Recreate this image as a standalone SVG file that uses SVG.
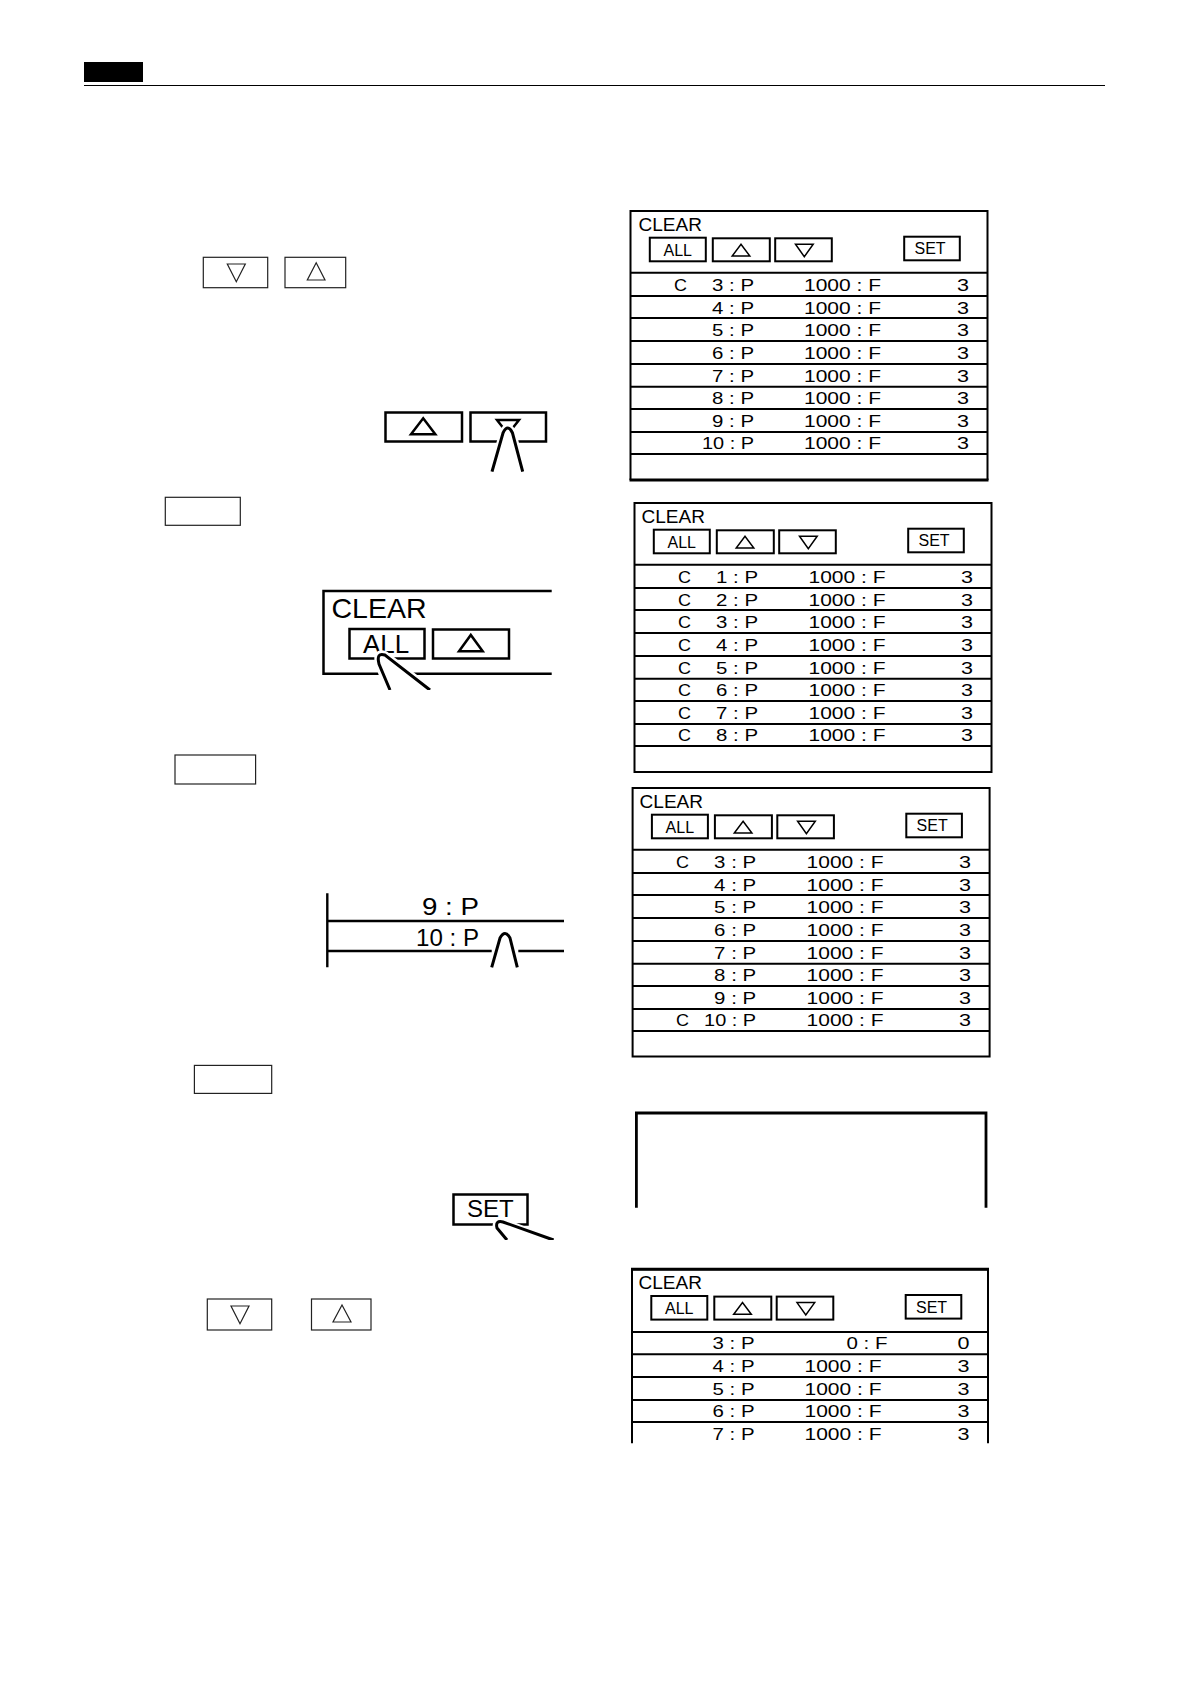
<svg xmlns="http://www.w3.org/2000/svg" width="1190" height="1684" viewBox="0 0 1190 1684">
<style>
text{font-family:"Liberation Sans",Arial,sans-serif;fill:#000}
.f{fill:none;stroke:#000;stroke-width:2}
.b{fill:#fff;stroke:#000;stroke-width:2}
.t{fill:#fff;stroke:#000;stroke-width:1.5;stroke-linejoin:miter}
.thin{fill:#fff;stroke:#222;stroke-width:1.2}
.h{font-size:19px}.k{font-size:16px}
.r{font-size:16.5px;text-anchor:end;transform:translate(.5px,-.5px)}
.l{stroke:#000;stroke-width:2;fill:none}
.w{fill:#fff;stroke:#000;stroke-width:2.5}
.halo{fill:#fff;stroke:#fff;stroke-width:8}
.fg{fill:none;stroke:#000;stroke-width:3}
</style>
<defs>
<g id="chrome">
<rect class="b" x="19.3" y="26.7" width="56" height="23.6"/>
<rect class="b" x="82.3" y="27.3" width="57" height="23"/>
<rect class="b" x="144.7" y="27.3" width="56.6" height="23"/>
<rect class="b" x="273.7" y="25.7" width="55.6" height="23.6"/>
<path class="t" d="M101.7 45H119.3L110.5 33.3Z"/>
<path class="t" d="M165 33.3H182.7L173.8 45.7Z"/>
</g>
<g id="lines8">
<path class="l" d="M0 61.7H357M0 85H357M0 107H357M0 130H357M0 153H357M0 175.7H357M0 198H357M0 221H357M0 243H357"/>
</g>
</defs>
<g id="header"><rect x="84" y="62" width="59" height="20" fill="#000"/><path d="M84 85.5H1105" stroke="#000" stroke-width="1"/></g>

<g id="key-down-up-1">
<rect class="thin" x="203.3" y="257.3" width="64.4" height="30.4"/><path class="thin" d="M227.3 264H245.3L236.3 281.7Z"/>
<rect class="thin" x="285" y="257.3" width="60.7" height="30.4"/><path class="thin" d="M307.3 280H325L316.2 262.7Z"/>
</g>
<g id="press-down">
<rect class="w" x="385.5" y="412.5" width="76.5" height="29"/><path class="w" d="M411 434.3H435.3L423.2 418.3Z"/>
<rect class="w" x="470.5" y="412.5" width="75.5" height="29"/><path class="w" d="M497 420H519L508 434Z"/>
<path class="halo" d="M492 476L503 433Q507.7 423 512.5 433L522.7 476Z"/>
<path class="fg" d="M492 471.7L503 433Q507.7 423 512.5 433L522.7 471.7"/>
<rect x="480" y="472" width="55" height="10" fill="#fff"/>
</g>
<g id="key-blank-1"><rect class="thin" x="165.3" y="497.3" width="75" height="28"/></g>
<g id="press-all">
<path d="M551.7 591H323.5V673.7H551.7" fill="none" stroke="#000" stroke-width="2.5"/>
<text x="331.5" y="618" font-size="28.5px">CLEAR</text>
<rect class="w" x="349.5" y="629" width="75" height="29.5"/>
<text x="363" y="652.7" font-size="26px">ALL</text>
<rect class="w" x="433" y="629.5" width="76" height="29"/><path class="w" d="M459 651.3H482.7L470.8 635Z"/>
<path class="halo" d="M390 694L379 664Q376 652 385 655L435 694Z"/>
<path class="fg" d="M390 690L379 664Q376 652 385 655L430 690"/>
<rect x="375" y="690" width="70" height="10" fill="#fff"/>
</g>
<g id="key-blank-2"><rect class="thin" x="175" y="755" width="80.6" height="29"/></g>
<g id="press-row">
<path d="M327.3 893.3V967.3M327.3 921H564M327.3 951H491.7M518.3 951H564" fill="none" stroke="#000" stroke-width="2.4"/>
<text x="479" y="915" font-size="23px" text-anchor="end" textLength="57" lengthAdjust="spacingAndGlyphs">9 : P</text>
<text x="479" y="946" font-size="23px" text-anchor="end" textLength="63" lengthAdjust="spacingAndGlyphs">10 : P</text>
<path class="fg" d="M491.7 967.3L500 938Q505 929 510 938L517.3 967.3"/>
</g>
<g id="key-blank-3"><rect class="thin" x="194.4" y="1065.4" width="77.3" height="28"/></g>
<g id="press-set">
<rect class="w" x="453.5" y="1194.5" width="74" height="30"/>
<text x="467" y="1217.3" font-size="24px">SET</text>
<path class="halo" d="M507 1242L497 1228Q495 1220 503 1222L553.6 1242Z"/>
<path class="fg" d="M507 1240L497 1228Q495 1220 503 1222L553.6 1240"/>
<rect x="490" y="1240" width="75" height="10" fill="#fff"/>
</g>
<g id="key-down-up-2">
<rect class="thin" x="207.3" y="1299" width="64.4" height="31"/><path class="thin" d="M231 1306H249L240 1323.7Z"/>
<rect class="thin" x="311.5" y="1299" width="59.5" height="31"/><path class="thin" d="M333 1322H351L342 1305Z"/>
</g>

<g id="panel-1" transform="translate(630.5 211)">
<path d="M0 269V0H357V269" class="f"/><path d="M-1 269H358" stroke="#000" stroke-width="3"/>
<use href="#chrome"/><use href="#lines8"/>
<text class="h" x="8" y="19.5">CLEAR</text><text class="k" x="33" y="45.2">ALL</text><text class="k" x="284" y="43.3">SET</text>
<text class="r" x="56" y="80.7" textLength="13" lengthAdjust="spacingAndGlyphs">C</text>
<text class="r" x="123" y="80.7" textLength="42" lengthAdjust="spacingAndGlyphs">3 : P</text><text class="r" x="250" y="80.7" textLength="77" lengthAdjust="spacingAndGlyphs">1000 : F</text><text class="r" x="338" y="80.7" textLength="12" lengthAdjust="spacingAndGlyphs">3</text>
<text class="r" x="123" y="103.3" textLength="42" lengthAdjust="spacingAndGlyphs">4 : P</text><text class="r" x="250" y="103.3" textLength="77" lengthAdjust="spacingAndGlyphs">1000 : F</text><text class="r" x="338" y="103.3" textLength="12" lengthAdjust="spacingAndGlyphs">3</text>
<text class="r" x="123" y="125.9" textLength="42" lengthAdjust="spacingAndGlyphs">5 : P</text><text class="r" x="250" y="125.9" textLength="77" lengthAdjust="spacingAndGlyphs">1000 : F</text><text class="r" x="338" y="125.9" textLength="12" lengthAdjust="spacingAndGlyphs">3</text>
<text class="r" x="123" y="148.5" textLength="42" lengthAdjust="spacingAndGlyphs">6 : P</text><text class="r" x="250" y="148.5" textLength="77" lengthAdjust="spacingAndGlyphs">1000 : F</text><text class="r" x="338" y="148.5" textLength="12" lengthAdjust="spacingAndGlyphs">3</text>
<text class="r" x="123" y="171.1" textLength="42" lengthAdjust="spacingAndGlyphs">7 : P</text><text class="r" x="250" y="171.1" textLength="77" lengthAdjust="spacingAndGlyphs">1000 : F</text><text class="r" x="338" y="171.1" textLength="12" lengthAdjust="spacingAndGlyphs">3</text>
<text class="r" x="123" y="193.7" textLength="42" lengthAdjust="spacingAndGlyphs">8 : P</text><text class="r" x="250" y="193.7" textLength="77" lengthAdjust="spacingAndGlyphs">1000 : F</text><text class="r" x="338" y="193.7" textLength="12" lengthAdjust="spacingAndGlyphs">3</text>
<text class="r" x="123" y="216.3" textLength="42" lengthAdjust="spacingAndGlyphs">9 : P</text><text class="r" x="250" y="216.3" textLength="77" lengthAdjust="spacingAndGlyphs">1000 : F</text><text class="r" x="338" y="216.3" textLength="12" lengthAdjust="spacingAndGlyphs">3</text>
<text class="r" x="123" y="238.9" textLength="52" lengthAdjust="spacingAndGlyphs">10 : P</text><text class="r" x="250" y="238.9" textLength="77" lengthAdjust="spacingAndGlyphs">1000 : F</text><text class="r" x="338" y="238.9" textLength="12" lengthAdjust="spacingAndGlyphs">3</text>
</g>

<g id="panel-2" transform="translate(634.5 503)">
<rect class="f" x="0" y="0" width="357" height="269"/>
<use href="#chrome"/><use href="#lines8"/>
<text class="h" x="7" y="19.5">CLEAR</text><text class="k" x="33" y="45.2">ALL</text><text class="k" x="284" y="43.3">SET</text>
<text class="r" x="56" y="80.7" textLength="13" lengthAdjust="spacingAndGlyphs">C</text><text class="r" x="123" y="80.7" textLength="42" lengthAdjust="spacingAndGlyphs">1 : P</text><text class="r" x="250.5" y="80.7" textLength="77" lengthAdjust="spacingAndGlyphs">1000 : F</text><text class="r" x="338" y="80.7" textLength="12" lengthAdjust="spacingAndGlyphs">3</text>
<text class="r" x="56" y="103.3" textLength="13" lengthAdjust="spacingAndGlyphs">C</text><text class="r" x="123" y="103.3" textLength="42" lengthAdjust="spacingAndGlyphs">2 : P</text><text class="r" x="250.5" y="103.3" textLength="77" lengthAdjust="spacingAndGlyphs">1000 : F</text><text class="r" x="338" y="103.3" textLength="12" lengthAdjust="spacingAndGlyphs">3</text>
<text class="r" x="56" y="125.9" textLength="13" lengthAdjust="spacingAndGlyphs">C</text><text class="r" x="123" y="125.9" textLength="42" lengthAdjust="spacingAndGlyphs">3 : P</text><text class="r" x="250.5" y="125.9" textLength="77" lengthAdjust="spacingAndGlyphs">1000 : F</text><text class="r" x="338" y="125.9" textLength="12" lengthAdjust="spacingAndGlyphs">3</text>
<text class="r" x="56" y="148.5" textLength="13" lengthAdjust="spacingAndGlyphs">C</text><text class="r" x="123" y="148.5" textLength="42" lengthAdjust="spacingAndGlyphs">4 : P</text><text class="r" x="250.5" y="148.5" textLength="77" lengthAdjust="spacingAndGlyphs">1000 : F</text><text class="r" x="338" y="148.5" textLength="12" lengthAdjust="spacingAndGlyphs">3</text>
<text class="r" x="56" y="171.1" textLength="13" lengthAdjust="spacingAndGlyphs">C</text><text class="r" x="123" y="171.1" textLength="42" lengthAdjust="spacingAndGlyphs">5 : P</text><text class="r" x="250.5" y="171.1" textLength="77" lengthAdjust="spacingAndGlyphs">1000 : F</text><text class="r" x="338" y="171.1" textLength="12" lengthAdjust="spacingAndGlyphs">3</text>
<text class="r" x="56" y="193.7" textLength="13" lengthAdjust="spacingAndGlyphs">C</text><text class="r" x="123" y="193.7" textLength="42" lengthAdjust="spacingAndGlyphs">6 : P</text><text class="r" x="250.5" y="193.7" textLength="77" lengthAdjust="spacingAndGlyphs">1000 : F</text><text class="r" x="338" y="193.7" textLength="12" lengthAdjust="spacingAndGlyphs">3</text>
<text class="r" x="56" y="216.3" textLength="13" lengthAdjust="spacingAndGlyphs">C</text><text class="r" x="123" y="216.3" textLength="42" lengthAdjust="spacingAndGlyphs">7 : P</text><text class="r" x="250.5" y="216.3" textLength="77" lengthAdjust="spacingAndGlyphs">1000 : F</text><text class="r" x="338" y="216.3" textLength="12" lengthAdjust="spacingAndGlyphs">3</text>
<text class="r" x="56" y="238.9" textLength="13" lengthAdjust="spacingAndGlyphs">C</text><text class="r" x="123" y="238.9" textLength="42" lengthAdjust="spacingAndGlyphs">8 : P</text><text class="r" x="250.5" y="238.9" textLength="77" lengthAdjust="spacingAndGlyphs">1000 : F</text><text class="r" x="338" y="238.9" textLength="12" lengthAdjust="spacingAndGlyphs">3</text>
</g>

<g id="panel-3" transform="translate(632.6 788)">
<rect class="f" x="0" y="0" width="357" height="268.5"/>
<use href="#chrome"/><use href="#lines8"/>
<text class="h" x="7" y="19.5">CLEAR</text><text class="k" x="33" y="45.2">ALL</text><text class="k" x="284" y="43.3">SET</text>
<text class="r" x="56" y="80.7" textLength="13" lengthAdjust="spacingAndGlyphs">C</text><text class="r" x="123" y="80.7" textLength="42" lengthAdjust="spacingAndGlyphs">3 : P</text><text class="r" x="250.5" y="80.7" textLength="77" lengthAdjust="spacingAndGlyphs">1000 : F</text><text class="r" x="338" y="80.7" textLength="12" lengthAdjust="spacingAndGlyphs">3</text>
<text class="r" x="123" y="103.3" textLength="42" lengthAdjust="spacingAndGlyphs">4 : P</text><text class="r" x="250.5" y="103.3" textLength="77" lengthAdjust="spacingAndGlyphs">1000 : F</text><text class="r" x="338" y="103.3" textLength="12" lengthAdjust="spacingAndGlyphs">3</text>
<text class="r" x="123" y="125.9" textLength="42" lengthAdjust="spacingAndGlyphs">5 : P</text><text class="r" x="250.5" y="125.9" textLength="77" lengthAdjust="spacingAndGlyphs">1000 : F</text><text class="r" x="338" y="125.9" textLength="12" lengthAdjust="spacingAndGlyphs">3</text>
<text class="r" x="123" y="148.5" textLength="42" lengthAdjust="spacingAndGlyphs">6 : P</text><text class="r" x="250.5" y="148.5" textLength="77" lengthAdjust="spacingAndGlyphs">1000 : F</text><text class="r" x="338" y="148.5" textLength="12" lengthAdjust="spacingAndGlyphs">3</text>
<text class="r" x="123" y="171.1" textLength="42" lengthAdjust="spacingAndGlyphs">7 : P</text><text class="r" x="250.5" y="171.1" textLength="77" lengthAdjust="spacingAndGlyphs">1000 : F</text><text class="r" x="338" y="171.1" textLength="12" lengthAdjust="spacingAndGlyphs">3</text>
<text class="r" x="123" y="193.7" textLength="42" lengthAdjust="spacingAndGlyphs">8 : P</text><text class="r" x="250.5" y="193.7" textLength="77" lengthAdjust="spacingAndGlyphs">1000 : F</text><text class="r" x="338" y="193.7" textLength="12" lengthAdjust="spacingAndGlyphs">3</text>
<text class="r" x="123" y="216.3" textLength="42" lengthAdjust="spacingAndGlyphs">9 : P</text><text class="r" x="250.5" y="216.3" textLength="77" lengthAdjust="spacingAndGlyphs">1000 : F</text><text class="r" x="338" y="216.3" textLength="12" lengthAdjust="spacingAndGlyphs">3</text>
<text class="r" x="56" y="238.9" textLength="13" lengthAdjust="spacingAndGlyphs">C</text><text class="r" x="123" y="238.9" textLength="52" lengthAdjust="spacingAndGlyphs">10 : P</text><text class="r" x="250.5" y="238.9" textLength="77" lengthAdjust="spacingAndGlyphs">1000 : F</text><text class="r" x="338" y="238.9" textLength="12" lengthAdjust="spacingAndGlyphs">3</text>
</g>

<g id="panel-4"><path d="M636.4 1207.7V1113H986V1207.7" fill="none" stroke="#000" stroke-width="2.8"/></g>

<g id="panel-5" transform="translate(632 1269.3)">
<path d="M0 174V0H356V174" class="f"/><path d="M-1 0H357" stroke="#000" stroke-width="3"/>
<use href="#chrome"/>
<path class="l" d="M0 62.7H356M0 85H356M0 107.7H356M0 130.7H356M0 152.7H356"/>
<text class="h" x="6.5" y="19.5">CLEAR</text><text class="k" x="33" y="45.2">ALL</text><text class="k" x="284" y="43.3">SET</text>
<text class="r" x="122" y="80.7" textLength="42" lengthAdjust="spacingAndGlyphs">3 : P</text><text class="r" x="255" y="80.7" textLength="41" lengthAdjust="spacingAndGlyphs">0 : F</text><text class="r" x="337" y="80.7" textLength="12" lengthAdjust="spacingAndGlyphs">0</text>
<text class="r" x="122" y="103.3" textLength="42" lengthAdjust="spacingAndGlyphs">4 : P</text><text class="r" x="249" y="103.3" textLength="77" lengthAdjust="spacingAndGlyphs">1000 : F</text><text class="r" x="337" y="103.3" textLength="12" lengthAdjust="spacingAndGlyphs">3</text>
<text class="r" x="122" y="125.9" textLength="42" lengthAdjust="spacingAndGlyphs">5 : P</text><text class="r" x="249" y="125.9" textLength="77" lengthAdjust="spacingAndGlyphs">1000 : F</text><text class="r" x="337" y="125.9" textLength="12" lengthAdjust="spacingAndGlyphs">3</text>
<text class="r" x="122" y="148.5" textLength="42" lengthAdjust="spacingAndGlyphs">6 : P</text><text class="r" x="249" y="148.5" textLength="77" lengthAdjust="spacingAndGlyphs">1000 : F</text><text class="r" x="337" y="148.5" textLength="12" lengthAdjust="spacingAndGlyphs">3</text>
<text class="r" x="122" y="171.1" textLength="42" lengthAdjust="spacingAndGlyphs">7 : P</text><text class="r" x="249" y="171.1" textLength="77" lengthAdjust="spacingAndGlyphs">1000 : F</text><text class="r" x="337" y="171.1" textLength="12" lengthAdjust="spacingAndGlyphs">3</text>
</g>
</svg>
